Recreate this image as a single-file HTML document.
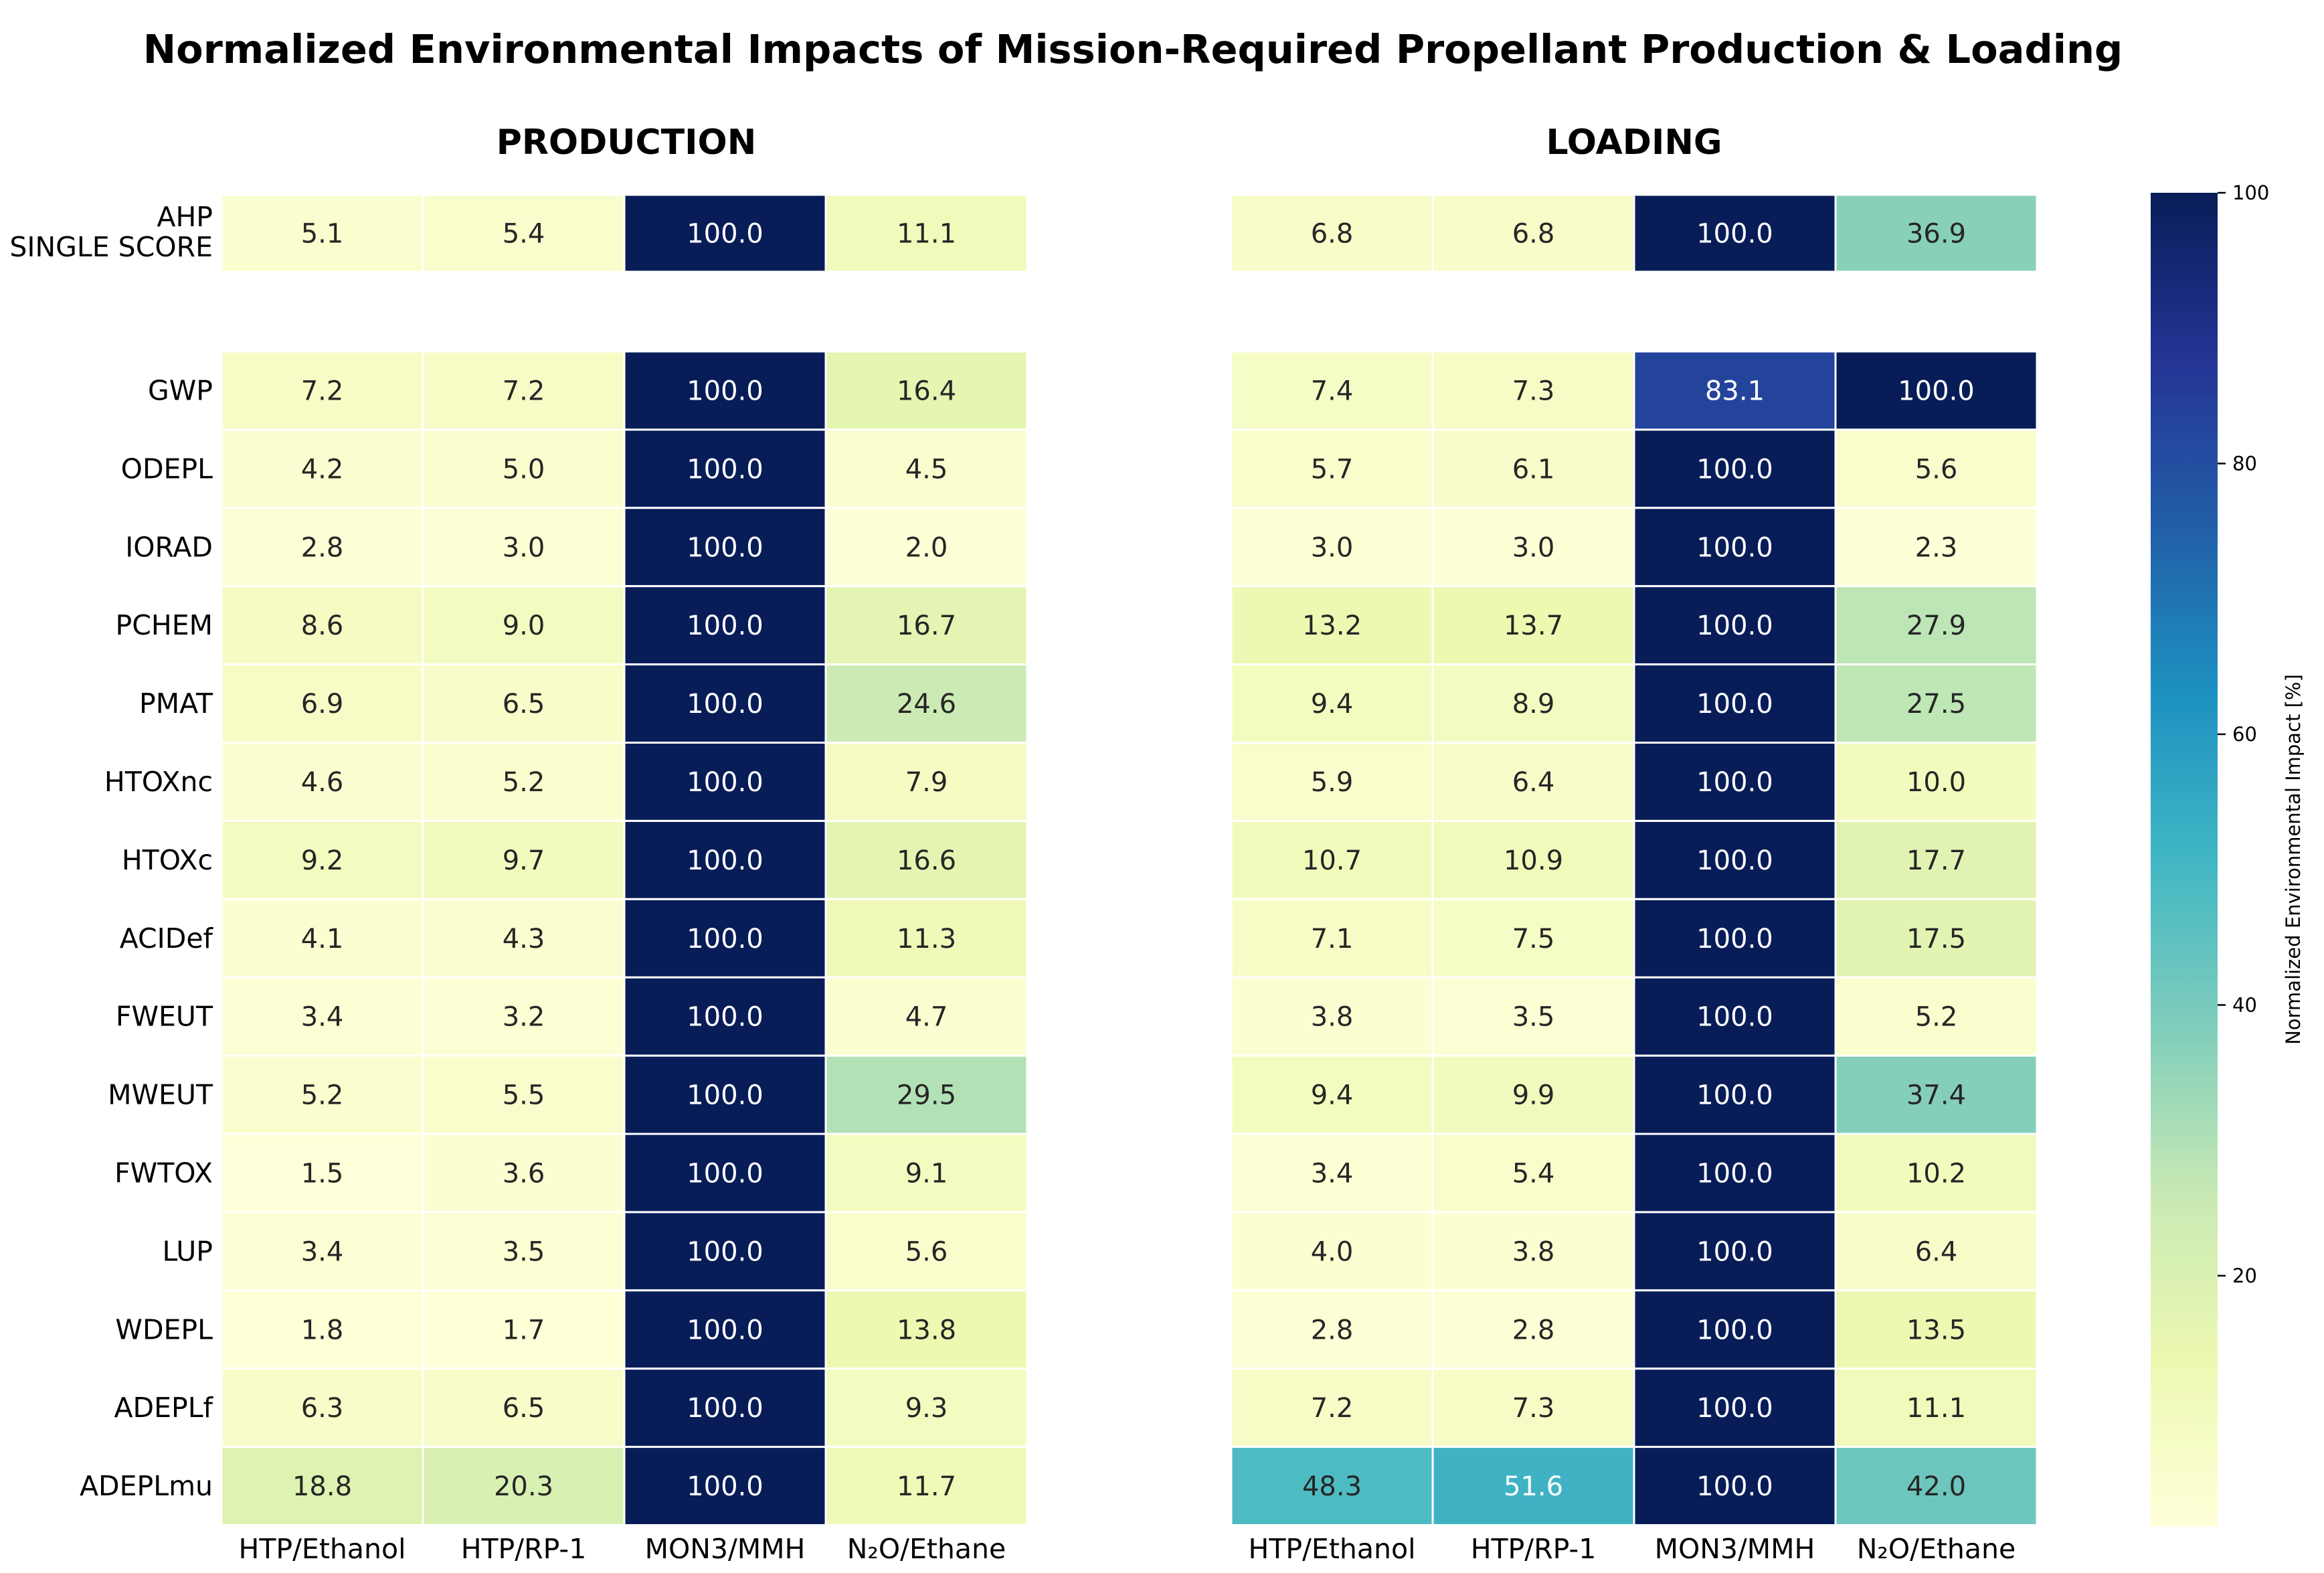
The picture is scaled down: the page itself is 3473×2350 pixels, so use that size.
<!DOCTYPE html>
<html><head><meta charset="utf-8"><style>
html,body{margin:0;padding:0;background:#fff}
svg{display:block;font-family:"DejaVu Sans","Liberation Sans",sans-serif}
</style></head><body>
<svg id="chart" width="3473" height="2350" viewBox="0 0 3473 2350" xmlns="http://www.w3.org/2000/svg">
<text x="1693" y="94" text-anchor="middle" font-size="59" font-weight="bold">Normalized Environmental Impacts of Mission-Required Propellant Production &amp; Loading</text>
<text x="936" y="230" text-anchor="middle" font-size="52" font-weight="bold">PRODUCTION</text>
<text x="2442" y="230" text-anchor="middle" font-size="52" font-weight="bold">LOADING</text>
<g id="cells"></g>
<g id="labels"></g>
<defs><linearGradient id="cbgrad" x1="0" y1="1" x2="0" y2="0"></linearGradient></defs>
<rect x="3214" y="288" width="100" height="1992" fill="url(#cbgrad)"/>
<g id="cbticks"></g>
<text transform="translate(3437,1284) rotate(-90)" text-anchor="middle" font-size="29">Normalized Environmental Impact [%]</text>
</svg>
<script>
const categories = ["HTP/Ethanol","HTP/RP-1","MON3/MMH","N₂O/Ethane"];
const singleLabel = ["AHP","SINGLE SCORE"];
const impacts = ["GWP","ODEPL","IORAD","PCHEM","PMAT","HTOXnc","HTOXc","ACIDef","FWEUT","MWEUT","FWTOX","LUP","WDEPL","ADEPLf","ADEPLmu"];
const prodSingle = [5.1,5.4,100.0,11.1];
const loadSingle = [6.8,6.8,100.0,36.9];
const prodValues = [
[7.2,7.2,100,16.4],[4.2,5.0,100,4.5],[2.8,3.0,100,2.0],[8.6,9.0,100,16.7],[6.9,6.5,100,24.6],
[4.6,5.2,100,7.9],[9.2,9.7,100,16.6],[4.1,4.3,100,11.3],[3.4,3.2,100,4.7],[5.2,5.5,100,29.5],
[1.5,3.6,100,9.1],[3.4,3.5,100,5.6],[1.8,1.7,100,13.8],[6.3,6.5,100,9.3],[18.8,20.3,100,11.7]];
const loadValues = [
[7.4,7.3,83.1,100],[5.7,6.1,100,5.6],[3.0,3.0,100,2.3],[13.2,13.7,100,27.9],[9.4,8.9,100,27.5],
[5.9,6.4,100,10.0],[10.7,10.9,100,17.7],[7.1,7.5,100,17.5],[3.8,3.5,100,5.2],[9.4,9.9,100,37.4],
[3.4,5.4,100,10.2],[4.0,3.8,100,6.4],[2.8,2.8,100,13.5],[7.2,7.3,100,11.1],[48.3,51.6,100,42.0]];
const cbTicks = [20,40,60,80,100];
const vmin = 1.5, vmax = 100;

const NS="http://www.w3.org/2000/svg";
const stops=["#ffffd9","#edf8b1","#c7e9b4","#7fcdbb","#41b6c4","#1d91c0","#225ea8","#253494","#081d58"].map(h=>[parseInt(h.slice(1,3),16),parseInt(h.slice(3,5),16),parseInt(h.slice(5,7),16)]);
function cmap(v){let t=Math.max(0,Math.min(1,(v-vmin)/(vmax-vmin)))*(stops.length-1);let i=Math.min(stops.length-2,Math.floor(t));let f=t-i;
 const c=stops[i].map((a,k)=>Math.round(a+(stops[i+1][k]-a)*f));return c;}
function lum(c){const l=c.map(x=>{x/=255;return x<=0.03928?x/12.92:Math.pow((x+0.055)/1.055,2.4)});return 0.2126*l[0]+0.7152*l[1]+0.0722*l[2];}
function mk(tag,attrs,parent,txt){const e=document.createElementNS(NS,tag);for(const k in attrs)e.setAttribute(k,attrs[k]);if(txt!==undefined)e.textContent=txt;parent.appendChild(e);return e;}
const cellsG=document.getElementById('cells'), labG=document.getElementById('labels');
const colW=301, rowH=116.9, panels=[331,1840];
function xPos(p,j){return panels[p]+j*colW;}
function yRow(r){return r<0?291:525+r*rowH;}
function drawCell(p,r,j,v){
 const x=xPos(p,j), y=yRow(r), h=r<0?115:rowH; const c=cmap(v);
 const rect=mk('rect',{x:x,y:y,width:colW,height:h,fill:`rgb(${c})`,stroke:'#fff','stroke-width':3},cellsG);
 
 
 const t=mk('text',{x:x+colW/2,y:y+h/2+14,'text-anchor':'middle','font-size':40,fill:lum(c)<0.408?'#fff':'#262626'},cellsG,v.toFixed(1));
 
 
}
[[prodSingle,prodValues],[loadSingle,loadValues]].forEach((d,p)=>{
 d[0].forEach((v,j)=>drawCell(p,-1,j,v));
 d[1].forEach((row,r)=>row.forEach((v,j)=>drawCell(p,r,j,v)));
 categories.forEach((c,j)=>{const t=mk('text',{x:xPos(p,j)+colW/2,y:2328,'text-anchor':'middle','font-size':41},labG,c);
  
  });
});
singleLabel.forEach((s,i)=>{const t=mk('text',{x:318,y:338+i*45,'text-anchor':'end','font-size':41},labG,s);
 
 });
impacts.forEach((s,r)=>{const t=mk('text',{x:318,y:yRow(r)+rowH/2+14,'text-anchor':'end','font-size':41},labG,s);
 
 });
const grad=document.getElementById('cbgrad');
for(let i=0;i<=40;i++){const v=vmin+(vmax-vmin)*i/40;mk('stop',{offset:(i/40),'stop-color':`rgb(${cmap(v)})`},grad);}
const cbT=document.getElementById('cbticks'), cbTop=288, cbBot=2280;
function cbY(v){return cbBot-(v-vmin)/(vmax-vmin)*(cbBot-cbTop);}
cbTicks.forEach(v=>{const y=cbY(v);
 const l=mk('line',{x1:3314,x2:3326,y1:y,y2:y,stroke:'#000','stroke-width':2.5},cbT);
 
 
 const t=mk('text',{x:3336,y:y+10,'font-size':29},cbT,String(v));
 
 });
</script>
</body></html>
